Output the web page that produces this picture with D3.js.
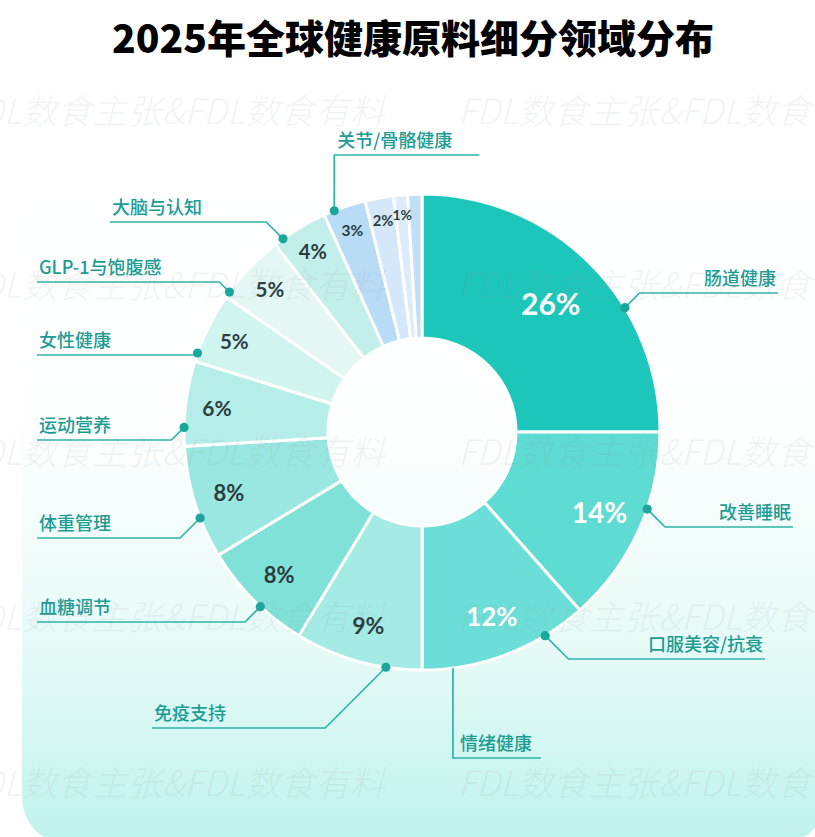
<!DOCTYPE html>
<html><head><meta charset="utf-8">
<script src="https://cdn.jsdelivr.net/npm/d3@7"></script>
<style>html,body{margin:0;padding:0;background:#fff;} svg{display:block;}</style>
</head><body>
<svg id="chart" width="815" height="837"></svg>
<script>
// ---------------- data ----------------
const chartTitle = "2025年全球健康原料细分领域分布";
const segmentValues = [26, 14, 12, 9, 8, 8, 6, 5, 5, 4, 3, 2, 1, 1];
const segmentLabels = ["26%", "14%", "12%", "9%", "8%", "8%", "6%", "5%", "5%", "4%", "3%", "2%", "1%", ""];
const segmentColors = ["#1cc6ba", "#5edbd2", "#6bdfd7", "#a4ebe5", "#80e1d9", "#99e7e0", "#b5eee9",
                       "#d0f4f0", "#e4f7f5", "#c3efea", "#b8dbf6", "#d5e8fa", "#dcecfb", "#c2ddf6"];
const calloutNames = ["肠道健康", "改善睡眠", "口服美容/抗衰", "情绪健康", "免疫支持", "血糖调节",
                      "体重管理", "运动营养", "女性健康", "GLP-1与饱腹感", "大脑与认知", "关节/骨骼健康"];
const calloutSegment = [0, 1, 2, 2, 3, 4, 5, 6, 7, 8, 9, 10];
const watermarkText = "FDL数食主张&FDL数食有料";

// ---------------- layout (positions / styles) ----------------
const W = 815, H = 837;
const cx = 422, cy = 432, R = 238, r0 = 94;
const calloutLayout = [
  {frac: 0.65, kind: "right", lineY: 293, endX: 778},
  {frac: 0.39, kind: "right", lineY: 527, endX: 793},
  {frac: 0.25, kind: "right", lineY: 659, endX: 765},
  {frac: 0.82, kind: "down",  lineY: 758, len: 88, dot: false},
  {frac: 0.28, kind: "left",  lineY: 728, endX: 152},
  {frac: 0.42, kind: "left",  lineY: 622, endX: 37},
  {frac: 0.36, kind: "left",  lineY: 538, endX: 37},
  {frac: 0.22, kind: "left",  lineY: 440, endX: 37},
  {frac: 0.12, kind: "left",  lineY: 355, endX: 37},
  {frac: 0.08, kind: "left",  lineY: 282, endX: 37},
  {frac: 0.17, kind: "left",  lineY: 222, endX: 110},
  {frac: 0.25, kind: "up",    lineY: 155, len: 145}
];
const watermarkRows = [124, 298, 465, 630, 796];

const svg = d3.select("#chart");
const defs = svg.append("defs");
const grad = defs.append("linearGradient").attr("id", "panelGrad")
  .attr("x1", 0).attr("y1", 0).attr("x2", 0).attr("y2", 1);
grad.append("stop").attr("offset", 0).attr("stop-color", "#ffffff");
grad.append("stop").attr("offset", 0.45).attr("stop-color", "#fdfffe");
grad.append("stop").attr("offset", 0.75).attr("stop-color", "#e5faf7");
grad.append("stop").attr("offset", 1).attr("stop-color", "#bef2ec");

svg.append("rect").attr("x", 0).attr("y", 0).attr("width", W).attr("height", H).attr("fill", "#fff");
svg.append("rect").attr("x", 22).attr("y", 90).attr("width", 804).attr("height", 755)
  .attr("rx", 48).attr("fill", "url(#panelGrad)");

// title
svg.append("text").attr("x", 413).attr("y", 53).attr("text-anchor", "middle")
  .attr("font-family", "'Noto Sans CJK SC', 'Noto Sans', sans-serif")
  .attr("font-weight", 900).attr("font-size", 39).attr("fill", "#000")
  .text(chartTitle);

// donut
const data = segmentValues.map((v, i) => ({value: v, label: segmentLabels[i], color: segmentColors[i]}));
const pie = d3.pie().value(d => d.value).sort(null);
const arcs = pie(data);
const arc = d3.arc().innerRadius(r0).outerRadius(R);
const g = svg.append("g").attr("transform", `translate(${cx},${cy})`);
g.selectAll("path.seg").data(arcs).join("path").attr("class", "seg")
  .attr("d", arc).attr("fill", d => d.data.color)
  .attr("stroke", "#fff").attr("stroke-width", 3).attr("stroke-linejoin", "miter");

// percent labels
const labelRadius = d3.scaleLinear().domain([1, 4, 9, 26]).range([218, 211, 200, 182]);
const labelSize = d3.scaleLinear().domain([1, 3, 4, 8, 12, 14, 26]).range([14, 15.5, 20, 22, 26, 28, 30]);
g.selectAll("text.pct").data(arcs.filter(d => d.data.label)).join("text").attr("class", "pct")
  .attr("transform", d => {
    const a = (d.startAngle + d.endAngle) / 2, rr = labelRadius(d.data.value);
    return `translate(${rr * Math.sin(a)},${-rr * Math.cos(a)})`;
  })
  .attr("text-anchor", "middle").attr("dominant-baseline", "central")
  .attr("font-family", "Lato, 'Noto Sans', sans-serif").attr("font-weight", 700)
  .attr("font-size", d => labelSize(d.data.value))
  .attr("fill", d => d.data.value >= 12 ? "#ffffff" : "#2c3d3f")
  .text(d => d.data.label);

// callouts
const lineColor = "#2fb4ab", dotColor = "#1ba69d", textColor = "#1c9c93";
const cg = svg.append("g");
calloutNames.forEach((name, i) => {
  const L = calloutLayout[i];
  const s = arcs[calloutSegment[i]];
  const a = s.startAngle + L.frac * (s.endAngle - s.startAngle);
  const px = cx + R * Math.sin(a), py = cy - R * Math.cos(a);
  let pts, tx, ty = L.lineY - 8, anchor = "start";
  if (L.kind === "left") {
    const ex = px - Math.abs(py - L.lineY);
    pts = [[px, py], [ex, L.lineY], [L.endX, L.lineY]];
    tx = L.endX + 2;
  } else if (L.kind === "right") {
    const ex = px + Math.abs(py - L.lineY);
    pts = [[px, py], [ex, L.lineY], [L.endX, L.lineY]];
    tx = L.endX - 2; anchor = "end";
  } else if (L.kind === "up") {
    pts = [[px, py], [px, L.lineY], [px + L.len, L.lineY]];
    tx = px + 3;
  } else {
    pts = [[px, py], [px, L.lineY], [px + L.len, L.lineY]];
    tx = px + 7;
  }
  cg.append("path").attr("d", d3.line()(pts)).attr("fill", "none")
    .attr("stroke", lineColor).attr("stroke-width", 1.7);
  if (L.dot !== false) {
    cg.append("circle").attr("cx", px).attr("cy", py).attr("r", 4.6).attr("fill", dotColor);
  }
  cg.append("text").attr("x", tx).attr("y", ty).attr("text-anchor", anchor)
    .attr("font-family", "'Noto Sans CJK SC', sans-serif").attr("font-weight", 500)
    .attr("font-size", 18).attr("fill", textColor).text(name);
});

// watermark
const wg = svg.append("g").attr("font-family", "'Noto Sans CJK SC', sans-serif")
  .attr("font-style", "italic").attr("font-weight", 300).attr("font-size", 35)
  .attr("fill", "#9a9a9a").attr("fill-opacity", 0.13);
watermarkRows.forEach(y => {
  wg.append("text").attr("x", 385).attr("y", y).attr("text-anchor", "end").text(watermarkText);
  wg.append("text").attr("x", 458).attr("y", y).attr("text-anchor", "start").text(watermarkText);
});
</script>
</body></html>
